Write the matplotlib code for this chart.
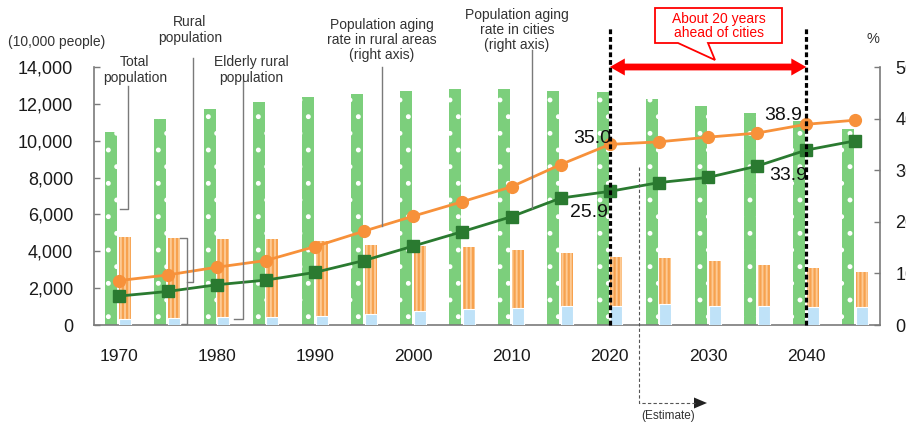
import matplotlib
matplotlib.use("Agg")
import matplotlib.pyplot as plt
from matplotlib.patches import Polygon
from matplotlib.lines import Line2D

plt.rcParams["font.family"] = ["Liberation Sans", "DejaVu Sans"]

# ---- data -------------------------------------------------------------
years = list(range(1970, 2050, 5))
total_pop = [10470, 11190, 11700, 12100, 12360, 12560, 12690, 12780,
             12810, 12710, 12620, 12250, 11910, 11520, 11090, 10640]
rural_pop = [4770, 4720, 4650, 4690, 4560, 4360, 4290, 4230,
             4090, 3930, 3690, 3640, 3460, 3260, 3100, 2880]
elderly_rural = [310, 360, 420, 460, 500, 620, 740, 850,
                 900, 1010, 1040, 1120, 1040, 1040, 990, 960]
rural_aging = [8.6, 9.7, 11.2, 12.5, 15.2, 18.2, 21.1, 23.9,
               26.8, 31.1, 35.0, 35.5, 36.4, 37.2, 38.9, 39.7]
city_aging = [5.6, 6.5, 7.8, 8.7, 10.2, 12.5, 15.3, 18.1,
              21.0, 24.6, 25.9, 27.6, 28.6, 30.8, 33.9, 35.7]
year_labels = ["1970", "1980", "1990", "2000", "2010", "2020", "2030", "2040"]
left_ticks = [0, 2000, 4000, 6000, 8000, 10000, 12000, 14000]
right_ticks = [0, 10, 20, 30, 40, 50]
labelled_years = [2020, 2040]
gap_years = (2020, 2040)

# ---- layout -----------------------------------------------------------
W, H = 906, 424
fig = plt.figure(figsize=(W / 100, H / 100), dpi=100)
AX_L, AX_R, AX_T, AX_B = 94, 880, 67, 325
ax = fig.add_axes([AX_L / W, 1 - AX_B / H, (AX_R - AX_L) / W, (AX_B - AX_T) / H])
ax2 = ax.twinx()

X0, X1 = -0.5, len(years) - 0.5


def fxy(px, py):
    """pixel position -> figure fraction"""
    return px / W, 1 - py / H


def xpix(i):
    return AX_L + (i - X0) * (AX_R - AX_L) / (X1 - X0)


idx = list(range(len(years)))
GREEN_BAR = "#7ccf7c"
ORANGE_FACE = "#fdca94"
ORANGE_STRIPE = "#f7a24f"
BLUE_BAR = "#bfe2f8"
ORANGE_LINE = "#f7913a"
GREEN_LINE = "#2a7a30"
GRAY = "#7a7a7a"
TXT = "#333333"

bw = 0.245
with plt.rc_context({"hatch.linewidth": 1.1}):
    ax.bar([i - 0.27 for i in idx], total_pop, width=bw, align="edge",
           color=GREEN_BAR, edgecolor="white", linewidth=0, hatch=".", zorder=2)
with plt.rc_context({"hatch.linewidth": 1.6}):
    ax.bar([i + 0.01 for i in idx], rural_pop, width=bw, align="edge",
           color=ORANGE_FACE, edgecolor=ORANGE_STRIPE, linewidth=0, hatch="||||", zorder=2)
ax.bar([i + 0.01 for i in idx], elderly_rural, width=bw, align="edge",
       color=BLUE_BAR, edgecolor="white", linewidth=0.8, zorder=3)

ax.set_xlim(X0, X1)
ax.set_ylim(0, 14000)
ax.set_yticks(left_ticks)
ax.set_yticklabels([f"{v:,}" for v in left_ticks])
tick_pos = [years.index(int(y)) for y in year_labels]
ax.set_xticks(tick_pos)
ax.set_xticklabels(year_labels)

ax.tick_params(axis="y", direction="in", length=4, width=1, color=GRAY,
               pad=15, labelsize=13, labelcolor="#1a1a1a")
ax.tick_params(axis="x", length=0, pad=17, labelsize=12.5, labelcolor="#1a1a1a")
for s in ("top", "right"):
    ax.spines[s].set_visible(False)
for s in ("left", "bottom"):
    ax.spines[s].set_color(GRAY)
    ax.spines[s].set_linewidth(1.2)

# aging-rate lines on the right axis
ax2.plot(idx, rural_aging, color=ORANGE_LINE, lw=2.0, marker="o", ms=8.5,
         zorder=4, clip_on=False)
ax2.plot(idx, city_aging, color=GREEN_LINE, lw=2.0, marker="s", ms=8,
         zorder=4, clip_on=False)
ax2.set_ylim(0, 50)
ax2.set_yticks(right_ticks)
ax2.tick_params(axis="y", direction="in", length=4, width=1, color=GRAY,
                pad=11, labelsize=13, labelcolor="#1a1a1a")
for s in ("top", "left", "bottom"):
    ax2.spines[s].set_visible(False)
ax2.spines["right"].set_color(GRAY)
ax2.spines["right"].set_linewidth(1.2)

# value labels
offsets_rural = {2020: (1, 6), 2040: (-4, 9)}
offsets_city = {2020: (-2, -21), 2040: (1, -25)}
for y in labelled_years:
    i = years.index(y)
    ax2.annotate(f"{rural_aging[i]:.1f}", xy=(i, rural_aging[i]),
                 xytext=offsets_rural[y], textcoords="offset pixels",
                 ha="right", va="center", fontsize=14, color="#111111", zorder=6)
    ax2.annotate(f"{city_aging[i]:.1f}", xy=(i, city_aging[i]),
                 xytext=offsets_city[y], textcoords="offset pixels",
                 ha="right", va="center", fontsize=14, color="#111111", zorder=6)

# dashed markers of the 20-year gap
for y in gap_years:
    i = years.index(y)
    ax2.plot([i, i], [0, 58], color="black", lw=2.3, ls=(0, (1.5, 0.9)),
             zorder=7, clip_on=False)

# red double arrow between the two years
ya = 67
xa, xb = xpix(years.index(gap_years[0])), xpix(years.index(gap_years[1]))
hl, hh, bh = 15, 8.5, 3.4
arrow = [(xa, ya), (xa + hl, ya - hh), (xa + hl, ya - bh), (xb - hl, ya - bh),
         (xb - hl, ya - hh), (xb, ya), (xb - hl, ya + hh), (xb - hl, ya + bh),
         (xa + hl, ya + bh), (xa + hl, ya + hh)]
fig.patches.append(Polygon([fxy(*p) for p in arrow], closed=True,
                           transform=fig.transFigure, facecolor="#ff0000",
                           edgecolor="none", zorder=8))

# speech-bubble callout
bubble = [(655, 8), (782, 8), (782, 43), (708, 43), (715, 60), (678, 43), (655, 43)]
fig.patches.append(Polygon([fxy(*p) for p in bubble], closed=True,
                           transform=fig.transFigure, facecolor="white",
                           edgecolor="#ff0000", lw=1.3, zorder=8))
fig.text(*fxy(718.5, 26), "About 20 years\nahead of cities", ha="center", va="center",
         fontsize=10, color="#ff0000", linespacing=1.05, zorder=9)

# unit labels
fig.text(*fxy(57, 42), "(10,000 people)", ha="center", va="center", fontsize=10, color=TXT)
fig.text(*fxy(873, 39), "%", ha="center", va="center", fontsize=10.5, color=TXT)

# series captions
captions = [
    (190, 30, "Rural\npopulation"),
    (135, 70, "Total\npopulation"),
    (251, 70, "Elderly rural\npopulation"),
    (382, 40, "Population aging\nrate in rural areas\n(right axis)"),
    (517, 30, "Population aging\nrate in cities\n(right axis)"),
]
for px, py, t in captions:
    fig.text(*fxy(px, py), t, ha="center", va="center", fontsize=10,
             color=TXT, linespacing=1.1)

# leader lines
leaders = [
    [(128, 86), (128, 209), (120, 209)],
    [(193, 58), (193, 282), (187, 282)],
    [(180, 238), (187, 238), (187, 324), (182, 324)],
    [(243, 81), (243, 319), (234, 319)],
    [(382, 67), (382, 226)],
    [(532, 50), (532, 208)],
]
for pts in leaders:
    xs, ys = zip(*[fxy(*p) for p in pts])
    fig.lines.append(Line2D(xs, ys, transform=fig.transFigure, color=GRAY, lw=1.0, zorder=1))

# projection marker
xe = 639
xs, ys = zip(*[fxy(*p) for p in [(xe, 167), (xe, 403), (695, 403)]])
fig.lines.append(Line2D(xs, ys, transform=fig.transFigure, color="#555555",
                        lw=0.8, ls=(0, (3, 2))))
fig.patches.append(Polygon([fxy(*p) for p in [(694, 397.5), (707, 403), (694, 408.5)]],
                           closed=True, transform=fig.transFigure,
                           facecolor="#222222", edgecolor="none"))
fig.text(*fxy(668, 416), "(Estimate)", ha="center", va="center", fontsize=8.5, color=TXT)

fig.savefig("out.png", dpi=100)
